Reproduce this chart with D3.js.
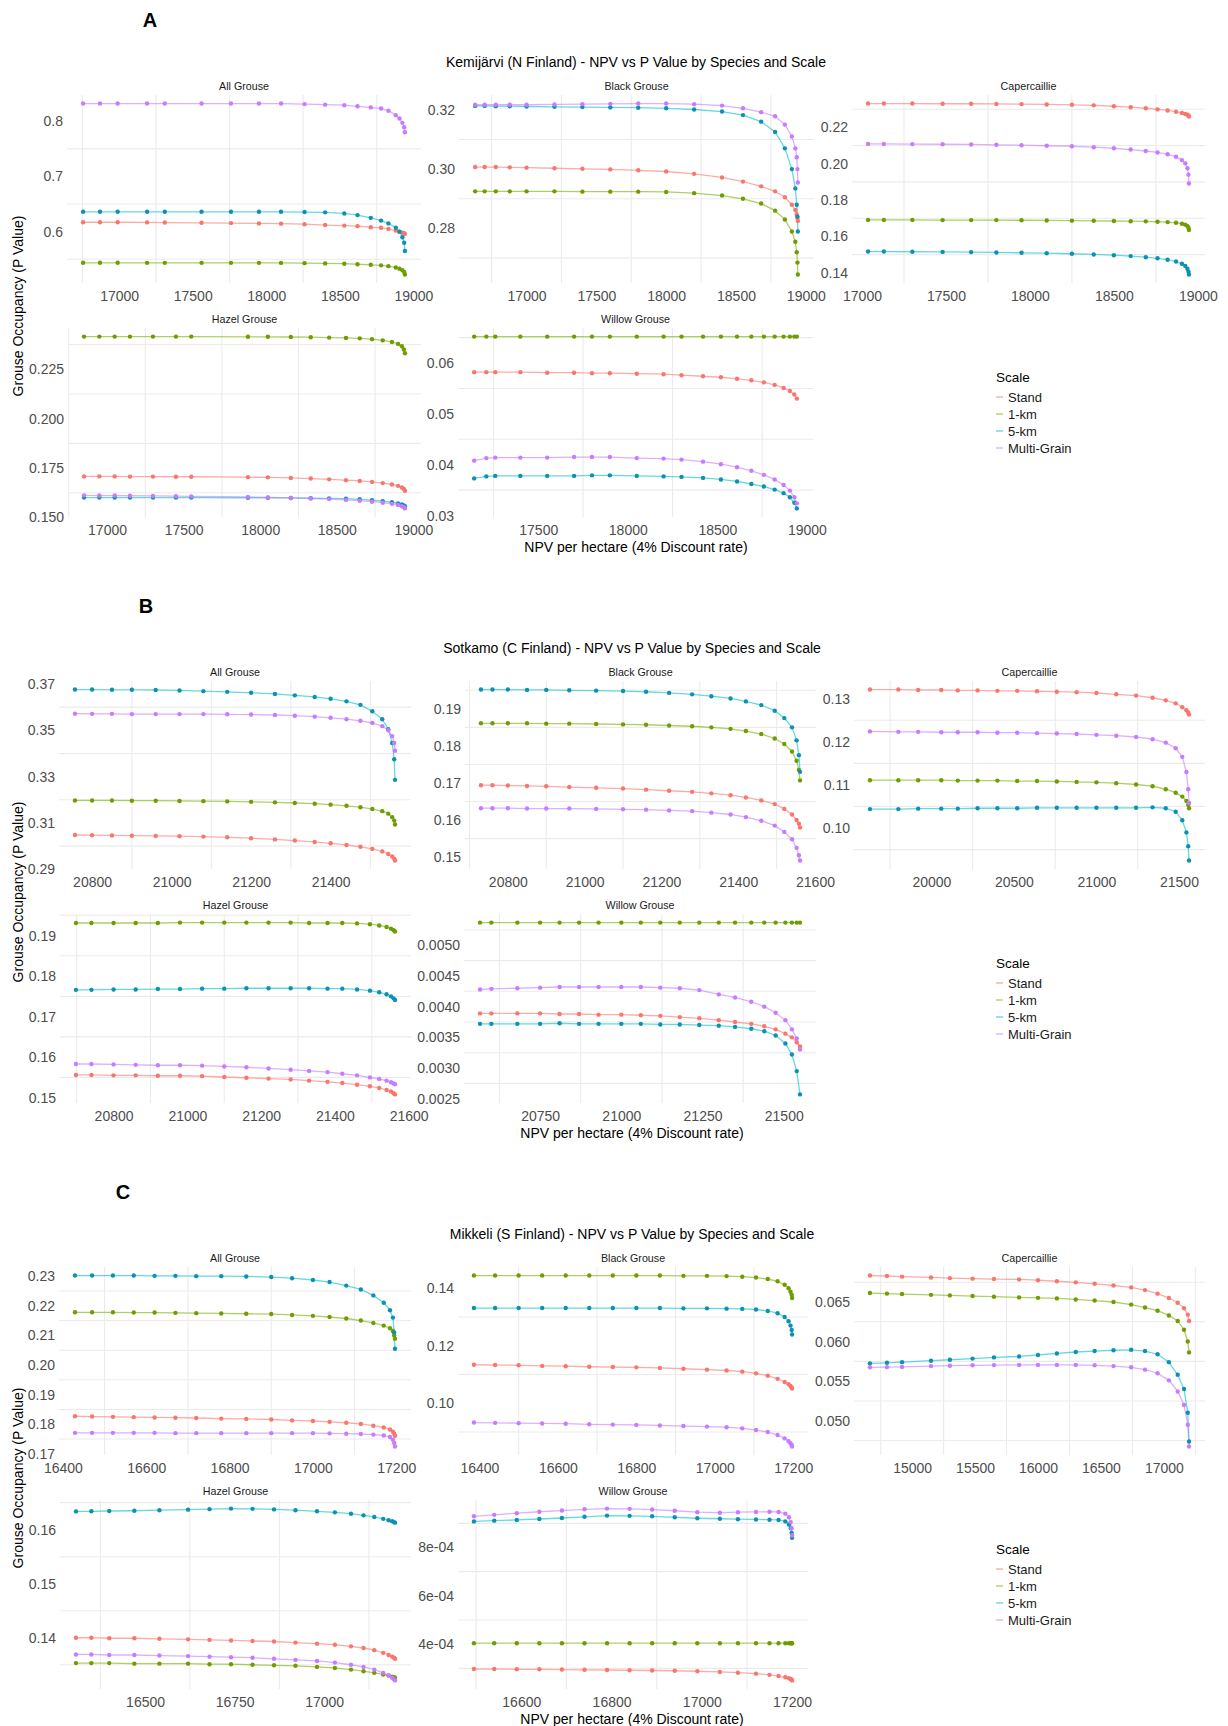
<!DOCTYPE html>
<html>
<head>
<meta charset="utf-8">
<script src="https://cdn.jsdelivr.net/npm/d3@7"></script>
<style>
  body { margin: 0; background: #fff; }
  svg { display: block; font-family: "Liberation Sans", Arial, sans-serif; }
</style>
</head>
<body>
<svg id="chart" width="1228" height="1726"></svg>
<script>
// ============= DATA ==================

const scaleNames = ["Stand", "1-km", "5-km", "Multi-Grain"];
const lineColors = ["#F8766D", "#7CAE00", "#00BFC4", "#C77CFF"];
const pointColors = ["#F8766D", "#6F9C00", "#0E90B4", "#C77CFF"];

const regionTitles = [
  "Kemijärvi (N Finland) - NPV vs P Value by Species and Scale",
  "Sotkamo (C Finland) - NPV vs P Value by Species and Scale",
  "Mikkeli (S Finland) - NPV vs P Value by Species and Scale"
];
const regionLetters = ["A", "B", "C"];
const speciesNames = ["All Grouse", "Black Grouse", "Capercaillie", "Hazel Grouse", "Willow Grouse"];

// --- A: Kemijärvi ---  (series order: Stand, 1-km, 5-km, Multi-Grain)
const A_all_x = [16755, 16870, 16990, 17190, 17310, 17560, 17760, 17950, 18100, 18260, 18400, 18530, 18620, 18710, 18780, 18830, 18880, 18905, 18925, 18937, 18942];
const A_all_y = [
  [.617, .617, .617, .6168, .6165, .616, .6155, .615, .6145, .6135, .612, .611, .610, .608, .607, .605, .602, .600, .598, .597, .596],
  [.5436, .5436, .5436, .5435, .5435, .5435, .5435, .5435, .5434, .543, .5425, .542, .541, .540, .539, .5375, .535, .533, .530, .527, .5225],
  [.636, .636, .636, .636, .636, .636, .636, .636, .636, .6355, .635, .633, .630, .625, .620, .615, .607, .600, .590, .580, .565],
  [.832, .832, .832, .832, .832, .832, .832, .832, .832, .831, .830, .829, .827, .825, .823, .819, .811, .805, .797, .789, .780]
];
const A_all_xt = [17000, 17500, 18000, 18500, 19000];
const A_all_yt = [0.6, 0.7, 0.8];

const A_black_x = [16632, 16700, 16780, 16880, 17000, 17200, 17400, 17600, 17800, 18000, 18200, 18400, 18550, 18680, 18780, 18850, 18900, 18925, 18935, 18940, 18943];
const A_black_y = [
  [.3007, .3007, .3007, .3006, .3005, .3003, .3001, .2999, .2996, .2992, .2984, .2972, .2958, .2942, .2925, .2905, .2880, .2862, .2848, .2835, .2825],
  [.2925, .2925, .2925, .2925, .2925, .2925, .2924, .2924, .2924, .2923, .2919, .2911, .2900, .2884, .2860, .2830, .2790, .2755, .2720, .2685, .2645],
  [.3213, .3213, .3212, .3212, .3211, .3210, .3209, .3208, .3207, .3205, .3201, .3194, .3182, .3160, .3125, .3070, .3000, .2935, .2880, .2840, .2790],
  [.3217, .3217, .3217, .3217, .3217, .3218, .3219, .3220, .3221, .3221, .3219, .3214, .3205, .3192, .3178, .3150, .3110, .3070, .3040, .3000, .2955]
];
const A_black_xt = [17000, 17500, 18000, 18500, 19000];
const A_black_yt = [0.28, 0.30, 0.32];

const A_caper_x = [17036, 17130, 17300, 17480, 17650, 17800, 17950, 18100, 18250, 18380, 18500, 18600, 18690, 18760, 18820, 18870, 18905, 18925, 18938, 18944, 18947];
const A_caper_y = [
  [.2331, .2331, .2331, .2330, .2330, .2329, .2328, .2326, .2324, .2321, .2316, .2311, .2305, .2299, .2293, .2286, .2279, .2274, .2269, .2265, .2260],
  [.1691, .1691, .1691, .1690, .1690, .1690, .1689, .1688, .1687, .1686, .1685, .1684, .1683, .1681, .1679, .1675, .1670, .1665, .1657, .1648, .1636],
  [.1517, .1517, .1516, .1515, .1514, .1512, .1510, .1508, .1505, .1501, .1497, .1492, .1486, .1480, .1472, .1462, .1450, .1438, .1422, .1406, .1391],
  [.2109, .2109, .2108, .2107, .2106, .2104, .2102, .2099, .2096, .2091, .2085, .2078, .2070, .2062, .2052, .2038, .2020, .2002, .1975, .1940, .1891]
];
const A_caper_xt = [17000, 17500, 18000, 18500, 19000];
const A_caper_yt = [0.14, 0.16, 0.18, 0.20, 0.22];

const A_hazel_x = [16850, 16950, 17050, 17150, 17300, 17450, 17550, 17920, 18050, 18200, 18330, 18450, 18560, 18650, 18730, 18800, 18860, 18900, 18925, 18938, 18945];
const A_hazel_y = [
  [.1708, .1708, .1708, .1707, .1707, .1706, .1706, .1704, .1703, .1700, .1697, .1693, .1689, .1685, .1680, .1674, .1667, .1660, .1652, .1644, .1635],
  [.2415, .2415, .2415, .2415, .2415, .2415, .2415, .2414, .2414, .2413, .2412, .2410, .2408, .2406, .2402, .2396, .2388, .2378, .2366, .2350, .2331],
  [.1601, .1601, .1601, .1601, .1601, .1601, .1601, .1600, .1600, .1599, .1598, .1597, .1595, .1592, .1588, .1583, .1577, .1571, .1566, .1561, .1557],
  [.1612, .1611, .1611, .1610, .1609, .1608, .1607, .1604, .1602, .1599, .1596, .1593, .1589, .1585, .1580, .1575, .1569, .1563, .1557, .1552, .1546]
];
const A_hazel_xt = [17000, 17500, 18000, 18500, 19000];
const A_hazel_yt = [0.150, 0.175, 0.200, 0.225];

const A_willow_x = [17142, 17210, 17260, 17400, 17550, 17700, 17800, 17900, 18050, 18200, 18300, 18420, 18520, 18610, 18690, 18760, 18820, 18870, 18905, 18930, 18944];
const A_willow_y = [
  [.0582, .0582, .0582, .0582, .0581, .0581, .0580, .0580, .0579, .0578, .0576, .0574, .0572, .0569, .0566, .0562, .0557, .0551, .0545, .0538, .0530],
  [.0652, .0652, .0652, .0652, .0652, .0652, .0652, .0652, .0652, .0652, .0652, .0652, .0652, .0652, .0652, .0652, .0652, .0652, .0652, .0652, .0652],
  [.0373, .0377, .0378, .0378, .0378, .0378, .0379, .0379, .0378, .0377, .0376, .0374, .0371, .0367, .0362, .0357, .0351, .0344, .0336, .0325, .0314],
  [.0408, .0413, .0414, .0414, .0414, .0415, .0415, .0415, .0413, .0412, .0410, .0406, .0401, .0395, .0388, .0380, .0371, .0360, .0349, .0336, .0324]
];
const A_willow_xt = [17500, 18000, 18500, 19000];
const A_willow_yt = [0.03, 0.04, 0.05, 0.06];

// --- B: Sotkamo ---
const B_all_x = [20757, 20800, 20850, 20900, 20960, 21020, 21080, 21140, 21200, 21260, 21310, 21360, 21400, 21440, 21475, 21505, 21530, 21545, 21555, 21560, 21562];
const B_all_y = [
  [.3048, .3047, .3046, .3045, .3044, .3043, .3041, .3038, .3034, .3029, .3024, .3018, .3012, .3005, .2997, .2988, .2977, .2966, .2955, .2946, .2938],
  [.3197, .3197, .3197, .3196, .3196, .3195, .3194, .3193, .3191, .3189, .3186, .3183, .3179, .3174, .3168, .3160, .3151, .3140, .3125, .3110, .3093],
  [.3676, .3676, .3675, .3675, .3674, .3672, .3669, .3666, .3662, .3657, .3651, .3644, .3636, .3625, .3610, .3582, .3548, .3505, .3445, .3375, .3286],
  [.3572, .3571, .3571, .3570, .3570, .3570, .3570, .3569, .3568, .3566, .3563, .3559, .3554, .3548, .3541, .3532, .3518, .3500, .3475, .3445, .3412]
];
const B_all_xt = [20800, 21000, 21200, 21400];
const B_all_yt = [0.29, 0.31, 0.33, 0.35, 0.37];

const B_black_x = [20730, 20760, 20800, 20850, 20900, 20960, 21030, 21100, 21160, 21220, 21280, 21330, 21380, 21420, 21460, 21495, 21520, 21540, 21552, 21558, 21561];
const B_black_y = [
  [.1694, .1694, .1693, .1692, .1691, .1689, .1687, .1685, .1682, .1679, .1676, .1672, .1667, .1661, .1653, .1643, .1630, .1615, .1600, .1590, .1580],
  [.1861, .1861, .1861, .1861, .1860, .1860, .1859, .1858, .1857, .1855, .1853, .1850, .1846, .1840, .1832, .1820, .1805, .1785, .1760, .1735, .1707],
  [.1952, .1952, .1952, .1951, .1951, .1950, .1949, .1948, .1946, .1943, .1939, .1934, .1928, .1920, .1910, .1895, .1875, .1850, .1815, .1775, .1730],
  [.1632, .1632, .1632, .1631, .1631, .1631, .1630, .1629, .1628, .1626, .1624, .1620, .1615, .1608, .1598, .1585, .1568, .1548, .1525, .1505, .1491]
];
const B_black_xt = [20800, 21000, 21200, 21400, 21600];
const B_black_yt = [0.15, 0.16, 0.17, 0.18, 0.19];

const B_caper_x = [19628, 19800, 19920, 20060, 20160, 20280, 20400, 20520, 20640, 20760, 20880, 21000, 21120, 21240, 21340, 21420, 21480, 21520, 21545, 21556, 21561];
const B_caper_y = [
  [.1321, .1321, .1320, .1320, .1319, .1319, .1318, .1318, .1317, .1316, .1315, .1313, .1310, .1307, .1302, .1296, .1289, .1280, .1273, .1268, .1263],
  [.1111, .1111, .1111, .1111, .1110, .1110, .1110, .1109, .1109, .1108, .1107, .1106, .1104, .1101, .1097, .1090, .1082, .1073, .1063, .1054, .1046],
  [.1044, .1044, .1045, .1045, .1045, .1046, .1046, .1046, .1047, .1047, .1047, .1047, .1047, .1047, .1048, .1046, .1038, .1018, .0990, .0958, .0925],
  [.1224, .1223, .1223, .1222, .1222, .1222, .1221, .1221, .1220, .1219, .1218, .1216, .1214, .1211, .1206, .1198, .1185, .1165, .1130, .1090, .1058]
];
const B_caper_xt = [20000, 20500, 21000, 21500];
const B_caper_yt = [0.10, 0.11, 0.12, 0.13];

const B_hazel_x = [20698, 20740, 20800, 20860, 20920, 20980, 21040, 21100, 21160, 21220, 21280, 21330, 21380, 21420, 21460, 21495, 21520, 21540, 21552, 21559, 21563];
const B_hazel_y = [
  [.1556, .1556, .1555, .1555, .1554, .1554, .1553, .1551, .1549, .1547, .1545, .1542, .1539, .1536, .1532, .1528, .1524, .1519, .1515, .1511, .1508],
  [.1931, .1931, .1931, .1931, .1931, .1932, .1932, .1932, .1932, .1932, .1932, .1931, .1931, .1931, .1930, .1928, .1925, .1921, .1917, .1913, .1910],
  [.1766, .1766, .1767, .1767, .1768, .1768, .1769, .1769, .1770, .1770, .1770, .1770, .1769, .1769, .1767, .1764, .1760, .1755, .1750, .1745, .1741],
  [.1583, .1583, .1582, .1581, .1580, .1580, .1579, .1577, .1575, .1572, .1569, .1566, .1563, .1559, .1555, .1550, .1546, .1542, .1538, .1535, .1533]
];
const B_hazel_xt = [20800, 21000, 21200, 21400, 21600];
const B_hazel_yt = [0.15, 0.16, 0.17, 0.18, 0.19];

const B_willow_x = [20565, 20600, 20680, 20750, 20810, 20870, 20930, 21000, 21060, 21120, 21180, 21240, 21300, 21350, 21400, 21440, 21475, 21505, 21525, 21540, 21550];
const B_willow_y = [
  [.00389, .00389, .00389, .00389, .00388, .00388, .00387, .00387, .00386, .00385, .00383, .00381, .00378, .00375, .00372, .00368, .00363, .00356, .00350, .00342, .00335],
  [.00537, .00537, .00537, .00537, .00537, .00537, .00537, .00537, .00537, .00537, .00537, .00537, .00537, .00537, .00537, .00537, .00537, .00537, .00537, .00537, .00537],
  [.00372, .00372, .00372, .00372, .00373, .00372, .00372, .00372, .00372, .00371, .00371, .00370, .00369, .00367, .00364, .00360, .00353, .00340, .00322, .00295, .00257],
  [.00428, .00429, .00430, .00431, .00432, .00432, .00432, .00432, .00432, .00431, .00430, .00427, .00420, .00415, .00408, .00400, .00390, .00378, .00363, .00348, .00330]
];
const B_willow_xt = [20750, 21000, 21250, 21500];
const B_willow_yt = [0.0025, 0.0030, 0.0035, 0.0040, 0.0045, 0.0050];

// --- C: Mikkeli ---
const C_all_x = [16429, 16470, 16520, 16570, 16620, 16670, 16720, 16780, 16840, 16900, 16950, 17000, 17040, 17080, 17115, 17145, 17170, 17185, 17192, 17195, 17197];
const C_all_y = [
  [.1827, .1826, .1825, .1824, .1823, .1822, .1821, .1819, .1818, .1816, .1813, .1811, .1808, .1805, .1801, .1795, .1789, .1782, .1775, .1768, .1761],
  [.2178, .2178, .2178, .2177, .2177, .2176, .2175, .2174, .2173, .2172, .2169, .2166, .2162, .2157, .2150, .2142, .2133, .2124, .2115, .2100, .2089],
  [.2302, .2302, .2302, .2302, .2301, .2301, .2300, .2300, .2299, .2297, .2293, .2287, .2280, .2268, .2255, .2235, .2210, .2185, .2160, .2110, .2055],
  [.1771, .1771, .1771, .1771, .1771, .1770, .1770, .1770, .1770, .1770, .1770, .1770, .1769, .1768, .1767, .1765, .1762, .1757, .1748, .1737, .1725]
];
const C_all_xt = [16400, 16600, 16800, 17000, 17200];
const C_all_yt = [0.17, 0.18, 0.19, 0.20, 0.21, 0.22, 0.23];

const C_black_x = [16386, 16440, 16500, 16560, 16620, 16680, 16740, 16800, 16860, 16920, 16980, 17030, 17070, 17105, 17135, 17160, 17178, 17188, 17193, 17196, 17197];
const C_black_y = [
  [.1134, .1133, .1132, .1130, .1129, .1127, .1126, .1125, .1123, .1120, .1117, .1114, .1110, .1104, .1096, .1085, .1074, .1066, .1060, .1055, .1051],
  [.1444, .1444, .1444, .1444, .1444, .1444, .1444, .1444, .1444, .1443, .1443, .1442, .1440, .1437, .1432, .1424, .1412, .1400, .1388, .1377, .1366],
  [.1331, .1331, .1331, .1331, .1331, .1331, .1331, .1331, .1331, .1330, .1330, .1329, .1328, .1326, .1321, .1313, .1300, .1285, .1270, .1255, .1239],
  [.0933, .0932, .0931, .0930, .0929, .0927, .0926, .0925, .0923, .0921, .0919, .0917, .0913, .0907, .0900, .0890, .0878, .0868, .0861, .0855, .0850]
];
const C_black_xt = [16400, 16600, 16800, 17000, 17200];
const C_black_yt = [0.10, 0.12, 0.14];

const C_caper_x = [14665, 14800, 14920, 15150, 15300, 15480, 15650, 15850, 16000, 16150, 16300, 16450, 16600, 16740, 16850, 16950, 17040, 17110, 17160, 17190, 17200];
const C_caper_y = [
  [.06834, .06828, .06820, .06810, .06802, .06795, .06790, .06785, .06775, .06762, .06748, .06730, .06708, .06684, .06650, .06605, .06550, .06490, .06420, .06340, .06259],
  [.06613, .06606, .06600, .06590, .06583, .06575, .06567, .06558, .06552, .06545, .06532, .06518, .06500, .06467, .06430, .06390, .06330, .06260, .06150, .06000, .05863],
  [.05725, .05732, .05740, .05758, .05770, .05785, .05800, .05812, .05830, .05850, .05868, .05880, .05890, .05896, .05880, .05840, .05740, .05580, .05400, .05100, .04738],
  [.05675, .05677, .05680, .05690, .05695, .05700, .05703, .05705, .05705, .05705, .05705, .05700, .05690, .05675, .05645, .05600, .05510, .05370, .05200, .04950, .04675]
];
const C_caper_xt = [15000, 15500, 16000, 16500, 17000];
const C_caper_yt = [0.050, 0.055, 0.060, 0.065];

const C_hazel_x = [16307, 16350, 16400, 16470, 16540, 16620, 16680, 16740, 16800, 16860, 16920, 16980, 17030, 17075, 17110, 17140, 17165, 17180, 17190, 17195, 17198];
const C_hazel_y = [
  [.1400, .1400, .1399, .1399, .1398, .1397, .1396, .1395, .1394, .1393, .1391, .1389, .1387, .1384, .1381, .1377, .1372, .1368, .1365, .1363, .1361],
  [.1353, .1353, .1353, .1352, .1352, .1352, .1351, .1351, .1350, .1349, .1348, .1346, .1344, .1341, .1338, .1335, .1332, .1330, .1328, .1327, .1326],
  [.16338, .16340, .16345, .16350, .16360, .16370, .16380, .16390, .16385, .16375, .16360, .16340, .16320, .16295, .16265, .16235, .16200, .16175, .16155, .16140, .16130],
  [.1369, .1369, .1368, .1368, .1367, .1366, .1365, .1364, .1363, .1361, .1359, .1357, .1354, .1350, .1346, .1341, .1335, .1330, .1326, .1323, .1321]
];
const C_hazel_xt = [16500, 16750, 17000];
const C_hazel_yt = [0.14, 0.15, 0.16];

const C_willow_x = [16495, 16540, 16590, 16640, 16690, 16740, 16790, 16840, 16890, 16940, 16990, 17040, 17080, 17120, 17150, 17170, 17185, 17193, 17197, 17199, 17200];
const C_willow_y = [
  [.000297, .000297, .000296, .000296, .000295, .000294, .000293, .000292, .000291, .000290, .000288, .000285, .000282, .000278, .000273, .000268, .000263, .000259, .000256, .000253, .000250],
  [.000404, .000404, .000404, .000404, .000404, .000404, .000404, .000404, .000404, .000404, .000404, .000404, .000404, .000404, .000404, .000404, .000404, .000404, .000404, .000404, .000404],
  [.000908, .000911, .000914, .000918, .000922, .000927, .000932, .000931, .000929, .000925, .000921, .000919, .000917, .000916, .000915, .000914, .000908, .000895, .000880, .000860, .000840],
  [.000929, .000935, .000942, .000948, .000953, .000958, .000961, .000960, .000957, .000952, .000946, .000944, .000946, .000947, .000948, .000947, .000940, .000925, .000905, .000880, .000850]
];
const C_willow_xt = [16600, 16800, 17000, 17200];
const C_willow_yt = [4e-4, 6e-4, 8e-4];

// ============= LAYOUT ==================

const svg = d3.select("#chart");
svg.append("rect").attr("width", 1228).attr("height", 1726).attr("fill", "#fff");

const blocks = [
  { dy: 0,    lx: 150, top: [[67, 421], [459, 814], [852, 1205]], bottom: [[68, 421], [458, 813]] },
  { dy: 586,  lx: 146, top: [[59, 411], [465, 816], [854, 1205]], bottom: [[60, 411], [464, 816]] },
  { dy: 1172, lx: 123, top: [[59, 411], [458, 808], [854, 1205]], bottom: [[60, 411], [458, 808]] }
];
const rowY = [[95, 283], [328, 517]];

const panels = [
  { b: 0, r: 0, c: 0, sp: 0, x: A_all_x, y: A_all_y, xt: A_all_xt, yt: A_all_yt, f: ".1f" },
  { b: 0, r: 0, c: 1, sp: 1, x: A_black_x, y: A_black_y, xt: A_black_xt, yt: A_black_yt, f: ".2f" },
  { b: 0, r: 0, c: 2, sp: 2, x: A_caper_x, y: A_caper_y, xt: A_caper_xt, yt: A_caper_yt, f: ".2f" },
  { b: 0, r: 1, c: 0, sp: 3, x: A_hazel_x, y: A_hazel_y, xt: A_hazel_xt, yt: A_hazel_yt, f: ".3f" },
  { b: 0, r: 1, c: 1, sp: 4, x: A_willow_x, y: A_willow_y, xt: A_willow_xt, yt: A_willow_yt, f: ".2f" },
  { b: 1, r: 0, c: 0, sp: 0, x: B_all_x, y: B_all_y, xt: B_all_xt, yt: B_all_yt, f: ".2f" },
  { b: 1, r: 0, c: 1, sp: 1, x: B_black_x, y: B_black_y, xt: B_black_xt, yt: B_black_yt, f: ".2f" },
  { b: 1, r: 0, c: 2, sp: 2, x: B_caper_x, y: B_caper_y, xt: B_caper_xt, yt: B_caper_yt, f: ".2f" },
  { b: 1, r: 1, c: 0, sp: 3, x: B_hazel_x, y: B_hazel_y, xt: B_hazel_xt, yt: B_hazel_yt, f: ".2f" },
  { b: 1, r: 1, c: 1, sp: 4, x: B_willow_x, y: B_willow_y, xt: B_willow_xt, yt: B_willow_yt, f: ".4f" },
  { b: 2, r: 0, c: 0, sp: 0, x: C_all_x, y: C_all_y, xt: C_all_xt, yt: C_all_yt, f: ".2f" },
  { b: 2, r: 0, c: 1, sp: 1, x: C_black_x, y: C_black_y, xt: C_black_xt, yt: C_black_yt, f: ".2f" },
  { b: 2, r: 0, c: 2, sp: 2, x: C_caper_x, y: C_caper_y, xt: C_caper_xt, yt: C_caper_yt, f: ".3f" },
  { b: 2, r: 1, c: 0, sp: 3, x: C_hazel_x, y: C_hazel_y, xt: C_hazel_xt, yt: C_hazel_yt, f: ".2f" },
  { b: 2, r: 1, c: 1, sp: 4, x: C_willow_x, y: C_willow_y, xt: C_willow_xt, yt: C_willow_yt, f: "e" }
];

// ggplot-like 5% expansion of the data range
function expand([a, b]) {
  const d = (b - a) * 0.05;
  return [a - d, b + d];
}

// minor breaks half way between the majors (the only grid lines drawn)
function minorBreaks(ticks, domain) {
  const step = ticks[1] - ticks[0];
  const ext = [ticks[0] - step, ...ticks, ticks[ticks.length - 1] + step];
  const out = [];
  for (let i = 0; i < ext.length - 1; i++) {
    const m = (ext[i] + ext[i + 1]) / 2;
    if (m >= domain[0] && m <= domain[1]) out.push(m);
  }
  return out;
}

function sciFormat(v) {
  const [m, e] = v.toExponential(0).split("e");
  const sign = e[0] === "-" ? "-" : "+";
  const digits = e.replace(/[+-]/, "").padStart(2, "0");
  return m + "e" + sign + digits;
}

const tickFont = 14;

function drawPanel(p) {
  const blk = blocks[p.b];
  const [x0, x1] = p.r ? blk.bottom[p.c] : blk.top[p.c];
  const [y0, y1] = rowY[p.r].map(v => v + blk.dy);

  const x = d3.scaleLinear().domain(expand(d3.extent(p.x))).range([x0, x1]);
  const y = d3.scaleLinear().domain(expand(d3.extent(p.y.flat()))).range([y1, y0]);

  const g = svg.append("g");

  // grid
  const grid = g.append("g").attr("stroke", "#ebebeb").attr("stroke-width", 1.1);
  grid.selectAll(".vx").data(minorBreaks(p.xt, x.domain())).join("line")
    .attr("x1", d => x(d)).attr("x2", d => x(d)).attr("y1", y0).attr("y2", y1);
  grid.selectAll(".hy").data(minorBreaks(p.yt, y.domain())).join("line")
    .attr("x1", x0).attr("x2", x1).attr("y1", d => y(d)).attr("y2", d => y(d));

  // axes
  const xAxis = g.append("g")
    .attr("transform", `translate(0,${y1})`)
    .call(d3.axisBottom(x).tickValues(p.xt).tickFormat(d3.format("d")).tickSize(0).tickPadding(8));
  const yFmt = p.f === "e" ? sciFormat : d3.format(p.f);
  const yAxis = g.append("g")
    .attr("transform", `translate(${x0},0)`)
    .call(d3.axisLeft(y).tickValues(p.yt).tickFormat(yFmt).tickSize(0).tickPadding(4));
  [xAxis, yAxis].forEach(a => {
    a.select(".domain").remove();
    a.attr("font-family", null).attr("font-size", tickFont);
    a.selectAll("text").attr("fill", "#4d4d4d");
  });

  // strip label
  g.append("text")
    .attr("x", (x0 + x1) / 2).attr("y", y0 - 5)
    .attr("text-anchor", "middle")
    .attr("font-size", 10.7).attr("fill", "#1a1a1a")
    .text(speciesNames[p.sp]);

  // lines first, then points (like stacked ggplot layers)
  const line = d3.line().x((d, i) => x(p.x[i])).y(d => y(d));
  p.y.forEach((vals, s) => {
    g.append("path").datum(vals)
      .attr("d", line)
      .attr("fill", "none")
      .attr("stroke", lineColors[s])
      .attr("stroke-opacity", 0.6)
      .attr("stroke-width", 1.3);
  });
  p.y.forEach((vals, s) => {
    g.append("g").attr("fill", pointColors[s])
      .selectAll("circle").data(vals).join("circle")
      .attr("cx", (d, i) => x(p.x[i]))
      .attr("cy", d => y(d))
      .attr("r", 2.2);
  });
}

panels.forEach(drawPanel);

// ============= TITLES & LEGENDS ==================

blocks.forEach((blk, i) => {
  const dy = blk.dy;
  const cx = (blk.top[0][0] + blk.top[2][1]) / 2;

  svg.append("text")
    .attr("x", blk.lx).attr("y", 27 + dy)
    .attr("text-anchor", "middle")
    .attr("font-size", 20).attr("font-weight", "bold")
    .text(regionLetters[i]);

  svg.append("text")
    .attr("x", cx).attr("y", 67 + dy)
    .attr("text-anchor", "middle")
    .attr("font-size", 14).attr("fill", "#000")
    .text(regionTitles[i]);

  svg.append("text")
    .attr("x", cx).attr("y", 552 + dy)
    .attr("text-anchor", "middle")
    .attr("font-size", 14).attr("fill", "#000")
    .text("NPV per hectare (4% Discount rate)");

  svg.append("text")
    .attr("transform", `translate(23,${306 + dy}) rotate(-90)`)
    .attr("text-anchor", "middle")
    .attr("font-size", 14).attr("fill", "#000")
    .text("Grouse Occupancy (P Value)");

  // legend
  const lg = svg.append("g").attr("transform", `translate(996,${dy})`);
  lg.append("text").attr("x", 0).attr("y", 382)
    .attr("font-size", 13.5).attr("fill", "#000").text("Scale");
  scaleNames.forEach((name, k) => {
    const cy = 397 + k * 17;
    lg.append("line")
      .attr("x1", 0).attr("x2", 7).attr("y1", cy).attr("y2", cy)
      .attr("stroke", lineColors[k]).attr("stroke-opacity", 0.55).attr("stroke-width", 1.5);
    lg.append("text").attr("x", 12).attr("y", cy + 4.5)
      .attr("font-size", 13).attr("fill", "#1a1a1a").text(name);
  });
});
</script>
</body>
</html>
